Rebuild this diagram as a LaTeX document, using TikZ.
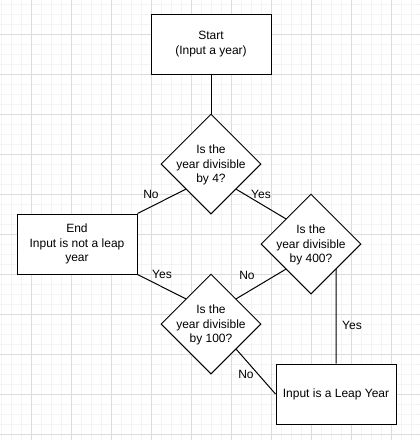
\documentclass[tikz,border=0pt]{standalone}
\usepackage{fontspec}
\setmainfont{Liberation Sans}
\usetikzlibrary{shapes.geometric}
\definecolor{gridmajor}{RGB}{220,220,220}
\definecolor{gridminor}{RGB}{243,243,243}

\begin{document}
\begin{tikzpicture}[x=1pt,y=-1pt,line width=1pt,
  every node/.style={font=\fontsize{12}{14.4}\selectfont},
  box/.style={draw,fill=white,minimum width=120pt,minimum height=60pt,align=center,inner sep=0pt},
  decision/.style={draw,fill=white,diamond,minimum width=100pt,minimum height=100pt,inner sep=0pt},
  question/.style={align=center,inner sep=0pt},
  lbl/.style={inner sep=0pt}]
\useasboundingbox[fill=white] (0,0) rectangle (420,440);
\foreach \x in {1,11,...,411}{\draw[gridminor] (\x,0)--(\x,440);}
\foreach \y in {4,14,...,434}{\draw[gridminor] (0,\y)--(420,\y);}
\foreach \x in {31,71,...,391}{\draw[gridmajor] (\x,0)--(\x,440);}
\foreach \y in {34,74,...,434}{\draw[gridmajor] (0,\y)--(420,\y);}
\node[box] (start) at (211,44) {Start\\(Input a year)};
\node[decision] (d4) at (211,164) {};
\node[question] (d4txt) at (211,165) {Is the\\year divisible\\by 4?};
\node[box] (notleap) at (77,244) {End\\Input is not a leap\\year};
\node[decision] (d400) at (311,244) {};
\node[question] (d400txt) at (311,245) {Is the\\year divisible\\by 400?};
\node[decision] (d100) at (211,324) {};
\node[question] (d100txt) at (211,325) {Is the\\year divisible\\by 100?};
\node[box] (leap) at (336,394) {Input is a Leap Year};
\draw (start.south)--(d4.north);
\draw (d4.south west)--(notleap.north east);
\draw (d4.south east)--(d400.north west);
\draw (d400.south west)--(d100.north east);
\draw (notleap.south east)--(d100.north west);
\draw (d100.south east)--(leap.west);
\draw (d400.south east)--(leap.north);
\node[lbl] (no4) at (151,194) {No};
\node[lbl] (yes4) at (261,194) {Yes};
\node[lbl] (yes100) at (162,274) {Yes};
\node[lbl] (no400) at (247,275) {No};
\node[lbl] (no100) at (246,374) {No};
\node[lbl] (yes400) at (352,325) {Yes};
\end{tikzpicture}
\end{document}
